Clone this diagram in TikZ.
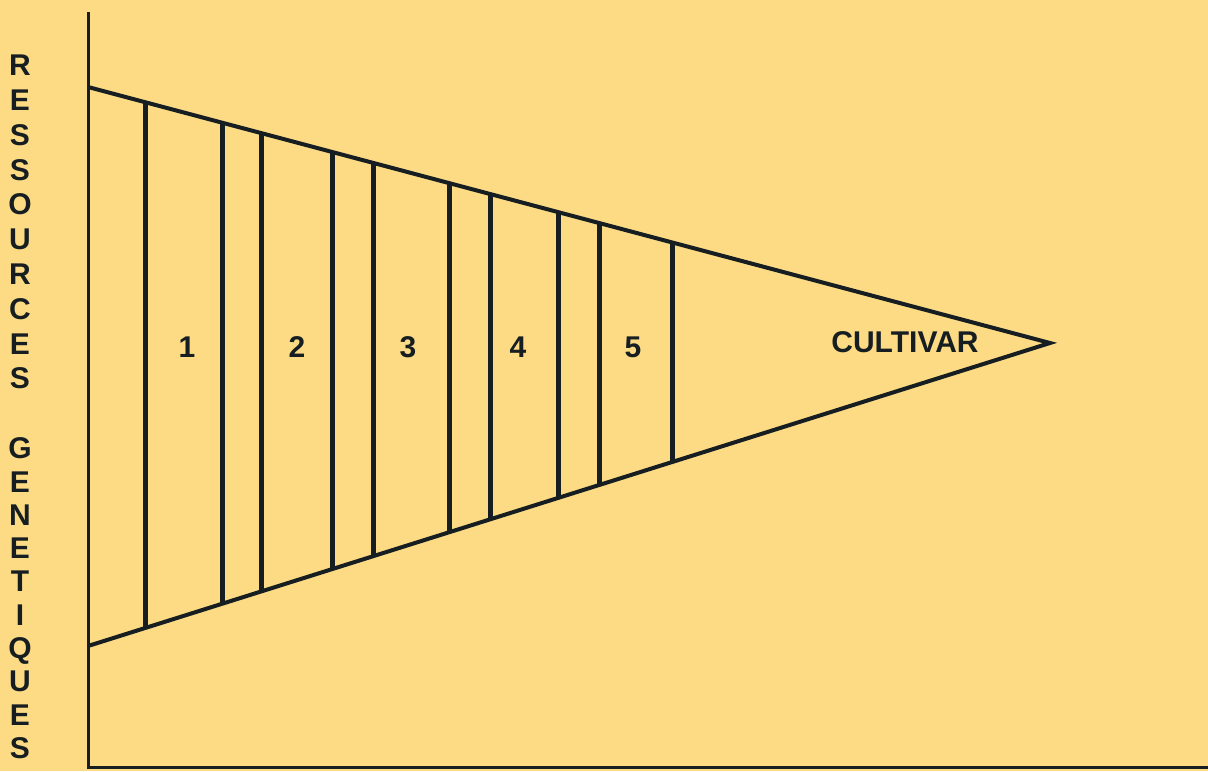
\documentclass[tikz,border=0pt]{standalone}
\usepackage{fontspec}
\setsansfont{Liberation Sans}
\usepackage{xcolor}
\usetikzlibrary{calc, positioning}
\definecolor{paper}{RGB}{252,219,132}
\definecolor{ink}{RGB}{22,30,34}
\tikzset{
    funnel/.style={
        x=0.5pt, y=-0.5pt,
        font=\sffamily\bfseries\fontsize{15}{18}\selectfont,
        axis/.style={line width=1.5pt, ink},
        edge/.style={line width=2pt, ink, line join=miter},
        divider/.style={line width=2.5pt, ink},
        tag/.style={ink, inner sep=0pt, text height=10.7pt, text depth=0pt},
        letter/.style={tag}
    }
}

\begin{document}
\begin{tikzpicture}[funnel]
        % Background
        \fill[paper] (0,0) rectangle (1208,771);
        \useasboundingbox (0,0) rectangle (1208,771);

        % Axes
        \coordinate (ytop) at (88,12);
        \coordinate (origin) at (88,767);
        \coordinate (xend) at (1208,767);
        \draw[axis] (ytop) -- (origin) -- (xend);

        % Triangle
        \coordinate (top) at (88,87);
        \coordinate (apex) at (1050,343);
        \coordinate (bot) at (88,646);
        \draw[edge] (top) -- (apex) -- (bot);

        % Selection steps
        \foreach \x in {145,223,262,333,374,449,490,558,600,672}
            \draw[divider] ($(top)!{(\x-88)/962}!(apex)$) -- ($(bot)!{(\x-88)/962}!(apex)$);

        % Step numbers
        \node[tag] (s1) at (187,347) {1};
        \node[tag] (s2) at (297,347) {2};
        \node[tag] (s3) at (408,347) {3};
        \node[tag] (s4) at (518,347) {4};
        \node[tag] (s5) at (633,347) {5};
        \node[tag] (cultivar) at (905,342) {CULTIVAR};

        % Vertical axis label
        \foreach \l [count=\i from 0] in {R,E,S,S,O,U,R,C,E,S}
            \node[letter] (r\i) at (20,{65+34.8*\i}) {\l};
        \foreach \l [count=\i from 0] in {G,E,N,E,T,I,Q,U,E,S}
            \node[letter] (g\i) at (20,{448+33.3*\i}) {\l};
\end{tikzpicture}
\end{document}
